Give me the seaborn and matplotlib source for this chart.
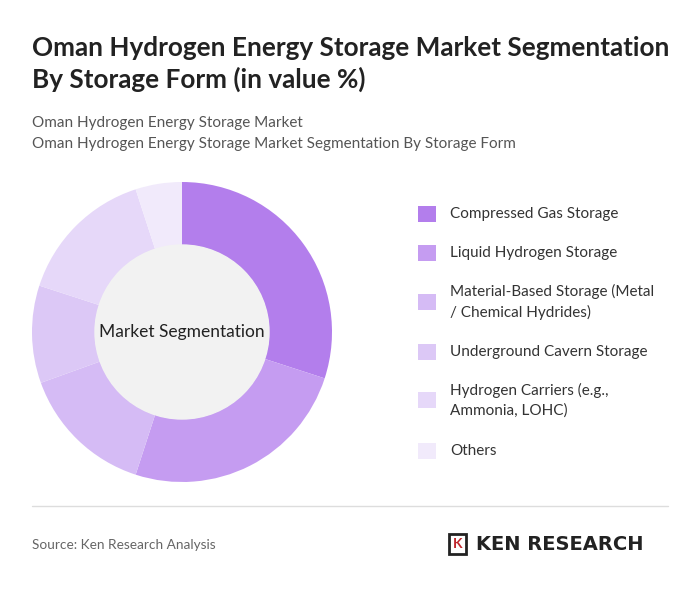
import matplotlib
matplotlib.use("Agg")
import matplotlib.pyplot as plt
import seaborn as sns
from matplotlib.patches import Circle, Rectangle

sns.set_theme(style="white")
plt.rcParams['font.family'] = ['Lato', 'DejaVu Sans']

categories = ["Compressed Gas Storage", "Liquid Hydrogen Storage",
              "Material-Based Storage (Metal\n/ Chemical Hydrides)", "Underground Cavern Storage",
              "Hydrogen Carriers (e.g.,\nAmmonia, LOHC)", "Others"]
values = [30, 25, 14.5, 10.5, 15, 5]
colors = ["#b37eec", "#c59cf1", "#d5bbf5", "#dcc8f6", "#e6d8f9", "#f1eafb"]

fig = plt.figure(figsize=(7, 5.91), dpi=100)
fig.patch.set_facecolor("white")
W, H = 700, 591
fig.text(32/W, 1-64/H, "Oman Hydrogen Energy Storage Market Segmentation\nBy Storage Form (in value %)",
         fontsize=18.8, fontweight="bold", color="#222222", va="center", linespacing=1.3)
fig.text(32/W, 1-123/H, "Oman Hydrogen Energy Storage Market", fontsize=11, color="#555555", va="center")
fig.text(32/W, 1-144/H, "Oman Hydrogen Energy Storage Market Segmentation By Storage Form", fontsize=11, color="#555555", va="center")

r = 150
ax = fig.add_axes([(182-r)/W, 1-(332+r)/H, 2*r/W, 2*r/H])
ax.pie(values, colors=colors, startangle=90, counterclock=False,
       wedgeprops=dict(width=63/150, edgecolor="white", linewidth=0))
ax.add_patch(Circle((0, 0), 87/150, color="#f2f2f2", zorder=3))
ax.text(0, 0, "Market Segmentation", ha="center", va="center", fontsize=12.5, color="#222222", zorder=4)
ax.set_xlim(-1, 1); ax.set_ylim(-1, 1); ax.set_aspect("equal"); ax.axis("off")

ys = [214, 253, 302, 352, 400, 451]
for c, col, y in zip(categories, colors, ys):
    fig.patches.append(Rectangle((418/W, 1-(y+8)/H), 18/W, 16/H, transform=fig.transFigure,
                                 facecolor=col, edgecolor="none"))
    fig.text(450/W, 1-y/H, c, fontsize=11, color="#333333", va="center", linespacing=1.5)

fig.lines.append(plt.Line2D([32/W, 668/W], [1-506/H, 1-506/H], transform=fig.transFigure, color="#dddddd", lw=1))
fig.text(32/W, 1-545/H, "Source: Ken Research Analysis", fontsize=9.8, color="#666666", va="center")
fig.patches.append(Rectangle((449/W, 1-554/H), 17/W, 20/H, transform=fig.transFigure,
                             facecolor="white", edgecolor="#222222", lw=2))
fig.text(457.5/W, 1-544/H, "K", fontsize=10, fontweight="bold", color="#c0272d", ha="center", va="center")
fig.text(476/W, 1-544/H, "KEN RESEARCH", fontsize=14, fontweight="bold", color="#222222", va="center",
         family=["DejaVu Sans"])

fig.savefig("out.png", dpi=100, facecolor="white")
